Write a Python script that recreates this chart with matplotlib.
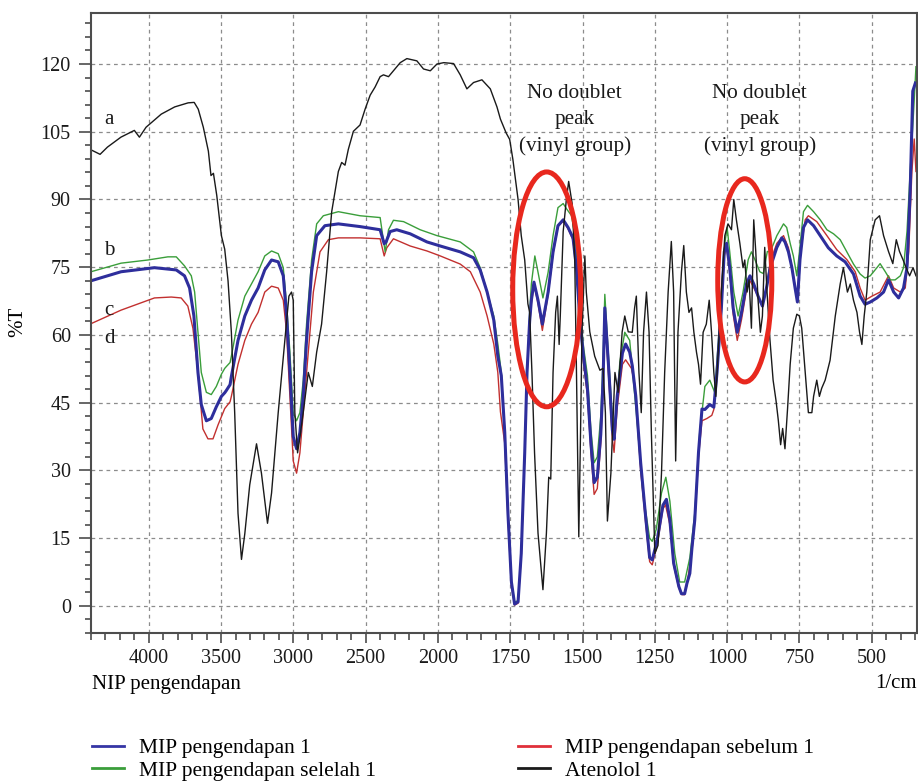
import numpy as np
import matplotlib.pyplot as plt
from matplotlib.patches import Ellipse
from matplotlib.lines import Line2D
from matplotlib.ticker import FixedLocator

plt.rcParams['font.family'] = ['Liberation Serif', 'DejaVu Serif']

# ---- spectra: wavenumber (1/cm) and %T ----
# a: Atenolol 1
wn_aten = [4400, 4337, 4286, 4193, 4100, 4065, 4019, 3914, 3821, 3728, 3686, 3658, 3623, 3588,
           3570, 3553, 3530, 3498, 3475, 3452, 3429, 3406, 3383, 3359, 3336, 3302, 3255, 3221,
           3179, 3151, 3105, 3059, 3031, 3013, 3001, 2990, 2971, 2955, 2932, 2897, 2869, 2839,
           2805, 2770, 2735, 2689, 2666, 2643, 2620, 2585, 2539, 2504, 2469, 2435, 2400, 2377,
           2342, 2308, 2261, 2215, 2146, 2100, 2053, 2007, 1980, 1946, 1923, 1900, 1877, 1848,
           1819, 1796, 1784, 1764, 1752, 1741, 1723, 1712, 1700, 1689, 1683, 1675, 1666, 1654,
           1637, 1625, 1617, 1610, 1602, 1593, 1587, 1581, 1577, 1567, 1556, 1548, 1536, 1527,
           1521, 1513, 1507, 1502, 1492, 1487, 1475, 1458, 1440, 1429, 1421, 1414, 1402, 1388,
           1377, 1363, 1354, 1342, 1328, 1320, 1314, 1305, 1297, 1289, 1279, 1270, 1262, 1250,
           1239, 1227, 1216, 1204, 1193, 1185, 1178, 1170, 1158, 1150, 1141, 1132, 1123, 1115,
           1106, 1099, 1092, 1083, 1072, 1062, 1054, 1046, 1039, 1031, 1020, 1008, 997, 985,
           977, 968, 956, 945, 939, 931, 924, 916, 908, 901, 893, 885, 878, 870, 862, 852,
           841, 831, 823, 815, 808, 800, 791, 782, 771, 759, 750, 742, 730, 719, 707, 701,
           690, 681, 673, 661, 644, 626, 609, 598, 584, 574, 563, 551, 542, 534, 526, 517,
           505, 488, 473, 459, 442, 427, 415, 404, 392, 381, 369, 357, 347]
t_aten = [101.0, 100.0, 101.6, 103.8, 105.3, 103.8, 106.0, 108.9, 110.5, 111.4, 111.5, 110.0, 106.0, 100.7,
          95.3, 95.8, 90.9, 82.0, 79.0, 72.0, 60.6, 42.8, 20.5, 10.3, 16.0, 26.8, 35.9, 29.4,
          18.3, 25.0, 42.8, 58.8, 68.6, 69.5, 67.7, 42.8, 33.9, 37.4, 42.8, 51.7, 48.6, 56.2,
          62.4, 74.0, 87.3, 96.2, 98.2, 97.6, 101.1, 105.1, 106.5, 110.0, 113.1, 114.9, 117.2, 117.6,
          117.2, 118.5, 120.3, 121.2, 120.7, 118.9, 118.5, 120.0, 120.3, 120.1, 117.6, 114.5, 115.9, 116.5,
          114.5, 110.5, 107.8, 104.7, 103.3, 98.9, 90.0, 82.0, 76.6, 66.9, 65.0, 51.7, 33.9, 16.1,
          3.6, 16.1, 28.5, 28.1, 51.7, 65.0, 68.6, 57.9, 64.2, 82.9, 90.0, 94.0, 89.1, 76.6,
          51.7, 15.3, 38.3, 60.7, 77.5, 69.5, 60.7, 55.3, 52.2, 52.6, 42.8, 18.8, 29.4, 51.7,
          47.3, 60.7, 64.2, 60.7, 60.6, 66.0, 68.6, 51.7, 42.8, 60.6, 69.5, 60.6, 38.4, 11.6,
          13.4, 29.4, 51.7, 69.5, 80.7, 69.5, 32.1, 60.6, 74.0, 79.8, 69.5, 65.0, 66.0, 60.6,
          56.2, 53.5, 49.1, 60.6, 62.4, 67.7, 60.6, 51.7, 46.4, 56.2, 69.5, 82.0, 84.6, 83.3,
          90.0, 85.5, 80.3, 74.9, 76.6, 69.5, 72.2, 61.5, 85.5, 78.5, 67.7, 60.6, 64.2, 79.4, 69.5, 59.0,
          50.0, 45.5, 41.1, 35.7, 39.3, 34.8, 43.7, 53.5, 61.5, 64.6, 64.2, 61.5, 51.7, 42.8, 42.8, 46.4,
          50.0, 46.4, 48.2, 50.0, 54.4, 64.2, 71.3, 74.9, 69.5, 71.3, 67.7, 65.0, 60.6, 57.9, 64.2, 69.5,
          81.1, 85.5, 86.4, 82.0, 78.5, 75.8, 81.1, 78.5, 76.7, 74.9, 73.1, 74.9, 73.1]

# b: MIP pengendapan selelah 1 (green)
wn_sel = [4400, 4192, 4007, 3868, 3810, 3753, 3706, 3683, 3660, 3637, 3602, 3568, 3533, 3498,
          3475, 3464, 3438, 3429, 3383, 3336, 3290, 3244, 3198, 3151, 3105, 3070, 3047, 3024,
          3001, 2978, 2955, 2932, 2909, 2874, 2839, 2793, 2689, 2539, 2400, 2382, 2365, 2342,
          2308, 2238, 2123, 2007, 1923, 1877, 1854, 1830, 1807, 1793, 1781, 1769, 1758, 1746,
          1735, 1723, 1712, 1700, 1692, 1683, 1677, 1665, 1654, 1637, 1619, 1602, 1585, 1567,
          1556, 1538, 1527, 1515, 1506, 1498, 1483, 1471, 1460, 1449, 1437, 1429, 1423, 1412,
          1400, 1391, 1383, 1371, 1354, 1337, 1314, 1291, 1268, 1259, 1245, 1227, 1212, 1198,
          1181, 1164, 1147, 1129, 1112, 1095, 1077, 1060, 1043, 1031, 1020, 1008, 1000, 991,
          977, 962, 945, 927, 916, 904, 887, 875, 861, 851, 828, 805, 794, 782, 771, 759,
          750, 736, 722, 701, 678, 655, 632, 609, 586, 563, 540, 523, 505, 482, 471, 453,
          436, 419, 401, 390, 378, 367, 355, 347]
t_sel = [74.0, 75.9, 76.6, 77.3, 77.3, 75.3, 73.1, 69.5, 60.6, 51.7, 47.3, 46.8, 48.6, 51.3,
         52.6, 53.0, 53.9, 55.3, 63.3, 68.6, 71.3, 74.0, 77.5, 78.6, 78.0, 74.9, 66.8, 56.2,
         42.8, 41.0, 42.8, 49.9, 62.4, 76.6, 84.6, 86.4, 87.3, 86.4, 86.0, 82.0, 78.4, 83.3,
         85.4, 85.1, 83.3, 82.0, 80.6, 78.4, 74.9, 69.5, 64.2, 58.0, 51.7, 38.4, 20.5, 5.3,
         0.8, 1.2, 11.6, 33.9, 51.7, 65.0, 71.3, 77.5, 73.9, 68.2, 73.9, 82.0, 88.2, 89.1,
         88.0, 86.4, 82.0, 73.9, 65.0, 58.0, 51.0, 39.0, 31.7, 33.0, 42.0, 55.0, 69.0, 57.0,
         45.0, 38.0, 44.0, 54.0, 60.6, 58.8, 42.8, 25.0, 15.0, 14.3, 17.0, 25.0, 28.5, 23.2,
         11.6, 5.3, 5.3, 10.7, 20.5, 38.3, 48.6, 50.0, 47.3, 58.0, 69.5, 80.3, 83.8, 78.4,
         69.5, 64.2, 69.5, 76.7, 78.4, 76.7, 74.0, 73.6, 78.5, 78.4, 82.0, 84.6, 83.8, 80.3, 77.5, 73.1,
         78.4, 87.3, 88.7, 87.3, 85.5, 83.3, 82.4, 81.1, 78.4, 75.7, 73.5, 72.6, 73.1, 74.9, 75.8, 74.0,
         72.2, 72.2, 73.1, 74.9, 82.9, 96.2, 109.6, 119.4]

# c: MIP pengendapan 1 (blue)
wn_mip = [4400, 4192, 3961, 3810, 3753, 3718, 3688, 3660, 3637, 3602, 3568, 3533, 3498, 3475,
          3464, 3438, 3429, 3383, 3336, 3290, 3244, 3198, 3151, 3105, 3070, 3047, 3024, 3001,
          2978, 2955, 2932, 2909, 2874, 2839, 2782, 2689, 2539, 2400, 2372, 2359, 2331, 2285,
          2192, 2076, 1992, 1923, 1877, 1854, 1830, 1807, 1793, 1781, 1769, 1758, 1746, 1735,
          1723, 1712, 1700, 1692, 1683, 1677, 1668, 1654, 1639, 1619, 1602, 1585, 1567, 1550,
          1533, 1521, 1510, 1498, 1483, 1471, 1460, 1449, 1437, 1429, 1423, 1410, 1397, 1391,
          1380, 1362, 1351, 1337, 1328, 1316, 1299, 1282, 1268, 1259, 1242, 1222, 1210, 1198,
          1185, 1167, 1158, 1147, 1139, 1129, 1122, 1112, 1099, 1087, 1077, 1060, 1046, 1035,
          1020, 1010, 1002, 991, 979, 965, 950, 933, 921, 908, 893, 878, 864, 851, 828, 811,
          800, 788, 776, 765, 757, 748, 736, 722, 701, 678, 650, 621, 592, 563, 540, 523,
          505, 482, 459, 442, 424, 407, 390, 378, 367, 358, 349]
t_mip = [72.0, 74.0, 74.9, 74.4, 73.1, 70.4, 64.2, 51.7, 44.6, 41.0, 41.5, 44.1, 46.4, 47.2,
         47.7, 49.0, 50.8, 58.8, 64.2, 67.7, 70.4, 74.4, 76.6, 76.2, 73.1, 64.2, 51.7, 37.5,
         34.8, 38.4, 46.4, 58.8, 74.0, 82.0, 84.2, 84.6, 84.0, 83.3, 80.2, 80.6, 82.9, 83.3,
         82.4, 80.6, 79.7, 78.4, 77.1, 74.4, 69.5, 63.3, 55.3, 51.0, 38.4, 20.5, 5.3, 0.4,
         0.9, 11.6, 33.9, 51.7, 63.0, 67.7, 71.7, 67.7, 62.4, 69.5, 78.4, 84.2, 85.5, 83.8,
         81.5, 74.8, 64.2, 56.0, 48.0, 36.0, 27.3, 28.5, 38.0, 50.0, 66.0, 53.0, 39.0, 36.9,
         46.5, 56.0, 58.0, 56.2, 53.2, 46.5, 31.7, 19.9, 10.7, 10.2, 14.5, 22.3, 23.6, 19.0,
         9.5, 4.3, 2.7, 2.7, 5.0, 7.2, 12.6, 19.0, 34.0, 43.6, 43.5, 44.6, 44.0, 51.7,
         65.9, 78.4, 80.3, 74.9, 65.9, 60.6, 65.1, 71.3, 73.1, 71.3, 68.6, 66.4, 70.4, 74.9, 79.4, 81.5,
         80.6, 78.4, 74.9, 70.4, 67.3, 76.7, 83.8, 85.5, 84.2, 82.0, 79.3, 77.5, 76.2, 73.5, 68.6, 66.8,
         67.3, 68.2, 69.5, 72.2, 69.5, 68.2, 70.4, 74.9, 91.8, 114.0, 115.8]

# d: MIP pengendapan sebelum 1 (red)
wn_seb = [4400, 4192, 3961, 3845, 3776, 3730, 3695, 3660, 3626, 3591, 3556, 3521, 3487, 3475,
          3438, 3429, 3383, 3336, 3290, 3244, 3198, 3151, 3105, 3070, 3047, 3024, 3001, 2978,
          2955, 2932, 2897, 2862, 2816, 2758, 2689, 2539, 2400, 2372, 2354, 2308, 2192, 2076,
          1992, 1923, 1888, 1854, 1830, 1807, 1793, 1784, 1769, 1758, 1746, 1735, 1723, 1712,
          1700, 1692, 1683, 1677, 1668, 1654, 1639, 1619, 1602, 1585, 1567, 1550, 1533, 1521,
          1510, 1498, 1483, 1471, 1460, 1449, 1437, 1429, 1423, 1410, 1397, 1391, 1380, 1362,
          1351, 1331, 1319, 1299, 1282, 1268, 1259, 1242, 1222, 1213, 1198, 1185, 1167, 1156,
          1147, 1139, 1122, 1112, 1099, 1087, 1070, 1053, 1046, 1035, 1020, 1010, 1002, 991,
          979, 965, 950, 933, 921, 908, 893, 878, 864, 851, 828, 805, 788, 771, 757, 748,
          730, 719, 690, 655, 621, 586, 557, 540, 523, 499, 471, 442, 424, 401, 384, 372,
          361, 353, 347]
t_seb = [62.5, 65.5, 68.2, 68.4, 68.2, 66.4, 61.5, 51.7, 39.2, 37.0, 37.0, 40.1, 42.8, 43.7,
         45.2, 46.4, 53.5, 58.8, 62.4, 65.0, 69.5, 70.8, 70.4, 67.7, 60.6, 46.4, 32.1, 29.4,
         33.9, 42.8, 56.2, 69.5, 78.4, 81.1, 81.5, 81.5, 81.3, 77.5, 79.3, 81.3, 79.7, 78.6,
         77.5, 75.7, 74.0, 69.5, 64.2, 58.0, 51.7, 43.0, 36.0, 19.5, 4.5, 0.2, 0.6, 11.0,
         33.5, 51.0, 62.0, 67.0, 71.2, 67.0, 61.0, 69.0, 78.0, 84.0, 85.2, 83.5, 81.0, 74.5,
         63.5, 54.5, 46.5, 34.0, 24.7, 26.0, 36.0, 48.0, 64.5, 51.0, 37.0, 34.0, 44.0, 53.5,
         54.5, 52.6, 49.0, 30.0, 18.5, 9.8, 9.1, 13.5, 21.5, 22.4, 18.0, 9.0, 4.0, 2.5,
         2.5, 4.7, 12.0, 18.5, 33.0, 41.0, 41.5, 42.2, 43.5, 51.0, 65.0, 77.5, 79.5, 74.0,
         64.5, 58.8, 63.5, 70.0, 72.0, 70.5, 68.5, 66.5, 70.5, 76.2, 80.3, 82.0, 79.3, 73.1, 67.7, 77.5,
         85.5, 86.4, 85.1, 82.0, 78.9, 76.7, 74.0, 70.4, 67.7, 68.6, 69.5, 73.1, 70.4, 69.5, 70.4, 78.5,
         96.2, 103.4, 96.2]


def fwd(x):
    # the instrument plot compresses the range above 2000 1/cm by a factor 2
    x = np.asarray(x, dtype=float)
    return np.where(x > 2000, 2000 + (x - 2000) / 2, x)


def inv(u):
    u = np.asarray(u, dtype=float)
    return np.where(u > 2000, 2000 + (u - 2000) * 2, u)


def main():
    fig = plt.figure(figsize=(9.18, 7.82), dpi=100)
    ax = fig.add_axes([0.0991, 0.1905, 0.8993, 0.7929])
    ax.set_xscale('function', functions=(fwd, inv))

    c_blue = '#2e2e9c'
    c_green = '#3a9e3a'
    c_red = '#c2302f'
    c_black = '#1a1a1a'

    ax.plot(wn_seb, t_seb, color=c_red, lw=1.0)
    ax.plot(wn_sel, t_sel, color=c_green, lw=1.0)
    ax.plot(wn_mip, t_mip, color=c_blue, lw=2.2)
    ax.plot(wn_aten, t_aten, color=c_black, lw=1.0)

    ax.set_xlim(4400, 345)
    ax.set_ylim(-6, 131.3)

    major_x = [4000, 3500, 3000, 2500, 2000, 1750, 1500, 1250, 1000, 750, 500]
    minor_x = list(range(2100, 4401, 100)) + list(range(350, 2000, 50))
    ax.xaxis.set_major_locator(FixedLocator(major_x))
    ax.xaxis.set_minor_locator(FixedLocator(minor_x))
    ax.set_xticklabels([str(v) for v in major_x])
    ax.yaxis.set_major_locator(FixedLocator(list(range(0, 121, 15))))
    ax.yaxis.set_minor_locator(FixedLocator(list(range(-6, 131, 3))))

    ax.grid(True, which='major', ls=(0, (3, 3)), color='#8c8c8c', lw=0.9)
    for s in ax.spines.values():
        s.set_color('#4d4d4d')
        s.set_linewidth(1.5)
    ax.tick_params(which='both', direction='out', color='#4d4d4d', labelsize=14.5,
                   labelcolor='#1a1a1a')
    ax.tick_params(axis='x', which='major', length=7.5, width=1.2, pad=4)
    ax.tick_params(axis='x', which='minor', length=5, width=1.2)
    ax.tick_params(axis='y', which='major', length=8.5, width=1.2, pad=6)
    ax.tick_params(axis='y', which='minor', length=4.5, width=1.2)

    # curve letters
    for lab, y in zip(['a', 'b', 'c', 'd'], [107.8, 78.6, 65.5, 59.3]):
        ax.text(4275, y, lab, fontsize=15, ha='center', va='center', color='#1a1a1a')

    # annotations
    note = 'No doublet\npeak\n(vinyl group)'
    ax.text(1527, 107.6, note, fontsize=15.2, ha='center', va='center',
            multialignment='center', linespacing=1.5, color='#1a1a1a')
    ax.text(887, 107.6, note, fontsize=15.2, ha='center', va='center',
            multialignment='center', linespacing=1.5, color='#1a1a1a')
    ax.add_patch(Ellipse((1624, 70.1), 235, 52, fill=False, ec='#e8281e', lw=3.6, zorder=5))
    ax.add_patch(Ellipse((939, 72.1), 187, 45, fill=False, ec='#e8281e', lw=3.6, zorder=5))

    fig.text(18 / 918, 1 - 322 / 782, '%T', rotation=90, fontsize=15, ha='center', va='center')
    fig.text(92 / 918, 1 - 684 / 782, 'NIP pengendapan', fontsize=15, ha='left', va='center')
    fig.text(917 / 918, 1 - 684 / 782, '1/cm', fontsize=15, ha='right', va='center')

    h_blue = Line2D([], [], color='#3535a5', lw=2.0, label='MIP pengendapan 1')
    h_green = Line2D([], [], color='#3a9e3a', lw=2.0, label='MIP pengendapan selelah 1')
    h_red = Line2D([], [], color='#e0303a', lw=2.0, label='MIP pengendapan sebelum 1')
    h_black = Line2D([], [], color='#1a1a1a', lw=2.0, label='Atenolol 1')
    kw = dict(loc='upper left', frameon=False, fontsize=15.5, handlelength=1.5,
              handletextpad=0.7, labelspacing=0.12, borderpad=0, borderaxespad=0)
    fig.legend(handles=[h_blue, h_green], bbox_to_anchor=(92 / 918, 1 - 738 / 782), **kw)
    fig.legend(handles=[h_red, h_black], bbox_to_anchor=(518 / 918, 1 - 738 / 782), **kw)

    fig.savefig('out.png', dpi=100)


if __name__ == "__main__":
    main()
